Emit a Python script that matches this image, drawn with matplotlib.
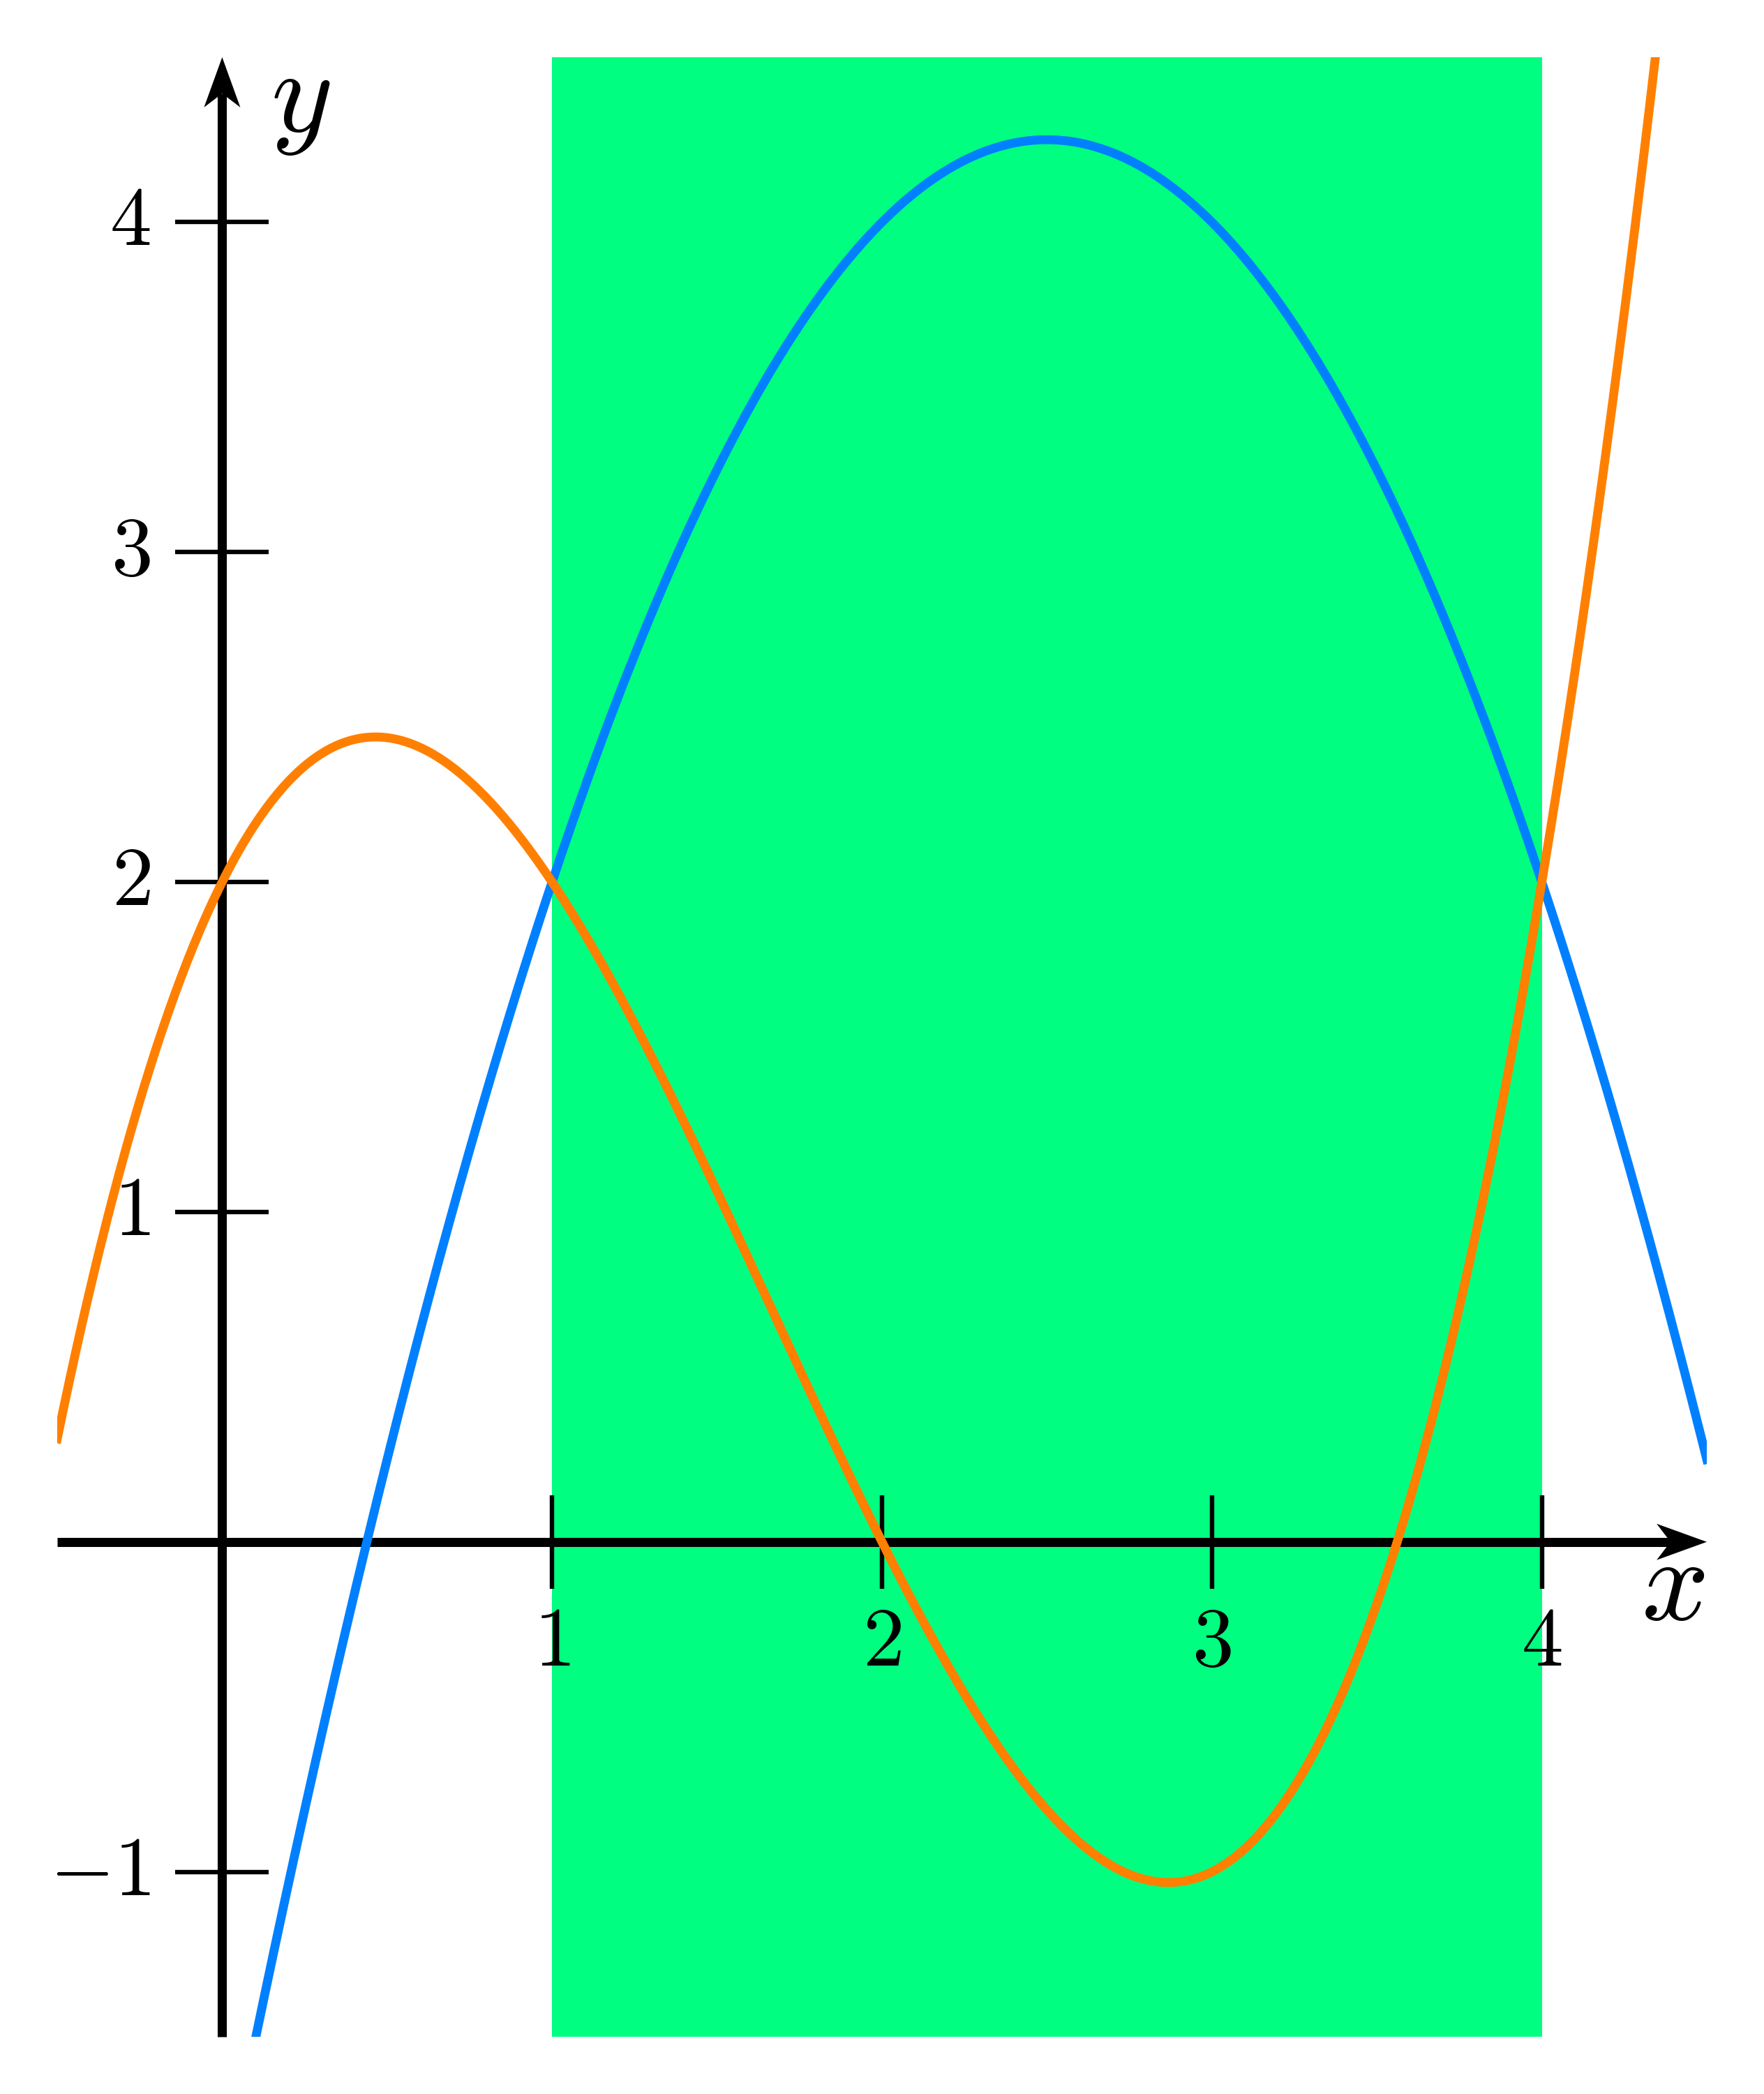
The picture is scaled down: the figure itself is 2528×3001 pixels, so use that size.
import numpy as np
import matplotlib
matplotlib.use("Agg")
import matplotlib.pyplot as plt
from matplotlib.patches import Polygon

plt.rcParams['mathtext.fontset'] = 'cm'

# limites de la fenetre et bande verte
x_range = [-0.5, 4.5]
y_range = [-1.5, 4.5]
band = [1, 4]

# coefficients (degre decroissant)
blue_coefs = [-1, 5, -2]            # parabole : sommet (2.5, 4.25)
orange_coefs = [0.5, -2.5, 2, 2]    # cubique : passe par (0,2) (1,2) (2,0) (4,2)

x_ticks = [1, 2, 3, 4]
y_ticks = [-1, 1, 2, 3, 4]

blue = "#0080FF"
orange = "#FF8000"
green = "#00FF80"

fig = plt.figure(figsize=(12.64, 15.005), dpi=200)
ax = fig.add_axes([82 / 2528, 82 / 3001, 2364 / 2528, 2837 / 3001])
ax.set_xlim(x_range)
ax.set_ylim(y_range)

ax.axvspan(band[0], band[1], color=green, lw=0, zorder=0.1)

xs = np.linspace(x_range[0], x_range[1], 800)
ax.plot(xs, np.polyval(blue_coefs, xs), color=blue, lw=4.6, zorder=3)
ax.plot(xs, np.polyval(orange_coefs, xs), color=orange, lw=4.6, zorder=3.1)

# axes au centre avec fleches
head_len = 0.152
head_w = 0.055
head_in = 0.042
for side in ['top', 'right']:
    ax.spines[side].set_visible(False)
ax.spines['left'].set_position(('data', 0))
ax.spines['bottom'].set_position(('data', 0))
ax.spines['left'].set_bounds(y_range[0], y_range[1] - head_len + head_in)
ax.spines['bottom'].set_bounds(x_range[0], x_range[1] - head_len + head_in)
for side in ['left', 'bottom']:
    ax.spines[side].set_linewidth(4.7)
    ax.spines[side].set_capstyle('butt')
    ax.spines[side].set_zorder(2)
ax.set_axisbelow(True)

tip = y_range[1]
ax.add_patch(Polygon([(0, tip), (head_w, tip - head_len), (0, tip - head_len + head_in),
                      (-head_w, tip - head_len)], closed=True, color='black', lw=0, zorder=2))
tip = x_range[1]
ax.add_patch(Polygon([(tip, 0), (tip - head_len, head_w), (tip - head_len + head_in, 0),
                      (tip - head_len, -head_w)], closed=True, color='black', lw=0, zorder=2))

ax.set_xticks(x_ticks)
ax.set_xticklabels([f"${t}$" for t in x_ticks])
ax.set_yticks(y_ticks)
ax.set_yticklabels([f"${t}$" for t in y_ticks])
ax.tick_params(direction='inout', length=47.9, width=2.3, labelsize=43)
ax.tick_params(axis='x', pad=7)
ax.tick_params(axis='y', pad=13)
for lbl in ax.get_yticklabels():
    lbl.set_verticalalignment('center')

ax.text(0.237, 4.37, "$y$", fontsize=61, ha='center', va='center')
ax.text(4.398, -0.135, "$x$", fontsize=61, ha='center', va='center')

fig.savefig("out.png", dpi=200)
